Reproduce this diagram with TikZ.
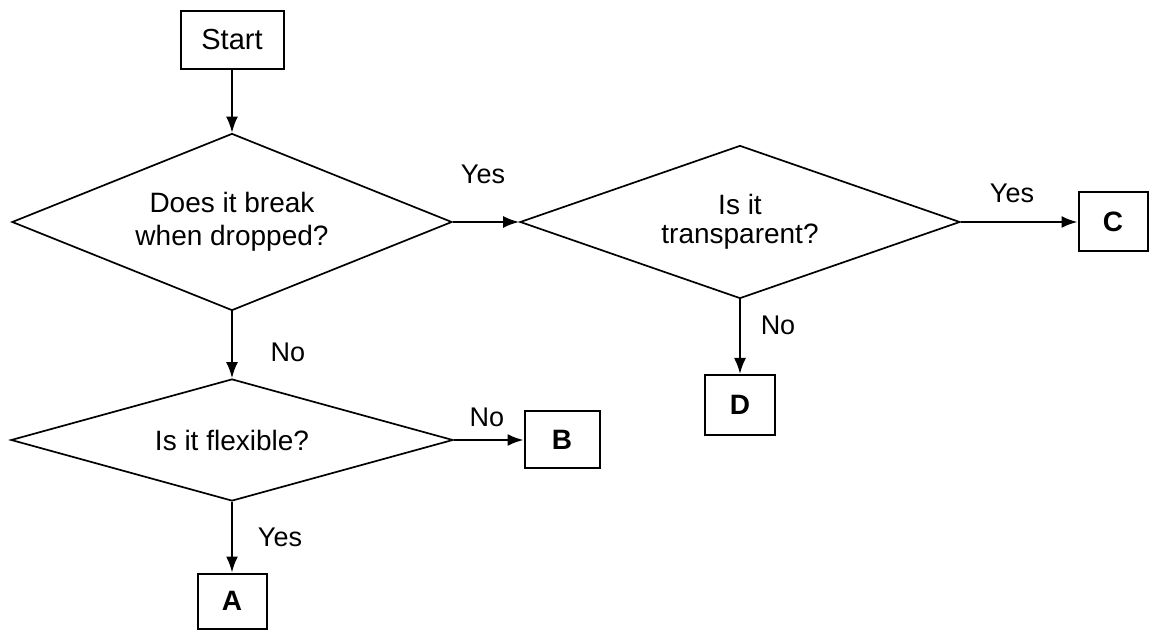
\documentclass[tikz,border=0pt]{standalone}
\usepackage{fontspec}
\setmainfont{Liberation Sans}
\usetikzlibrary{shapes.geometric, arrows.meta}

\tikzset{
	box/.style={draw, line width=1pt, inner sep=0pt, font=\fontsize{14}{16}\selectfont\bfseries},
	question/.style={draw, diamond, aspect=2.5, inner sep=0pt, line width=0.85pt, align=center, font=\fontsize{14}{16.5}\selectfont},
	answer/.style={inner sep=0pt, font=\fontsize{13.5}{15}\selectfont},
	flow/.style={line width=1pt, -{Latex[length=8pt, width=6pt]}}
}

\begin{document}
\begin{tikzpicture}[x=0.5pt, y=-0.5pt]

\useasboundingbox (0,0) rectangle (1151,630);

% Start box and the three questions
\node[box, font=\fontsize{14.5}{16}\selectfont, minimum width=51.5pt, minimum height=29pt] (start) at (232,40) {Start};
\node[question, minimum width=220pt, minimum height=88.5pt] (break) at (232,222) {Does it break\\when dropped?};
\node[question, minimum width=220pt, minimum height=76.5pt, font=\fontsize{14}{14.5}\selectfont] (transp) at (740,222) {Is it\\transparent?};
\node[question, minimum width=221pt, minimum height=61pt] (flex) at (232,440) {Is it flexible?};

% End boxes
\node[box, minimum width=34.5pt, minimum height=29.5pt] (C) at (1113,222) {C};
\node[box, minimum width=35pt, minimum height=30pt] (D) at (740,405) {D};
\node[box, minimum width=37.5pt, minimum height=28.5pt] (B) at (562,440) {B};
\node[box, minimum width=34.5pt, minimum height=27.5pt] (A) at (232,601) {A};

% Connectors
\draw[flow] (start) -- (break.north);
\draw[flow] (break.east) -- (transp.west);
\draw[flow] (transp.east) -- (C.west);
\draw[flow] (transp.south) -- (D.north);
\draw[flow] (break.south) -- (flex.north);
\draw[flow] (flex.east) -- (B.west);
\draw[flow] (flex.south) -- (A.north);

% Answers on the connectors
\node[answer] (yesbreak) at (483,174) {Yes};
\node[answer] (yestransp) at (1012,193) {Yes};
\node[answer] (notransp) at (778,325) {No};
\node[answer] (nobreak) at (288,352) {No};
\node[answer] (noflex) at (487,417) {No};
\node[answer] (yesflex) at (280,537) {Yes};

\end{tikzpicture}
\end{document}
